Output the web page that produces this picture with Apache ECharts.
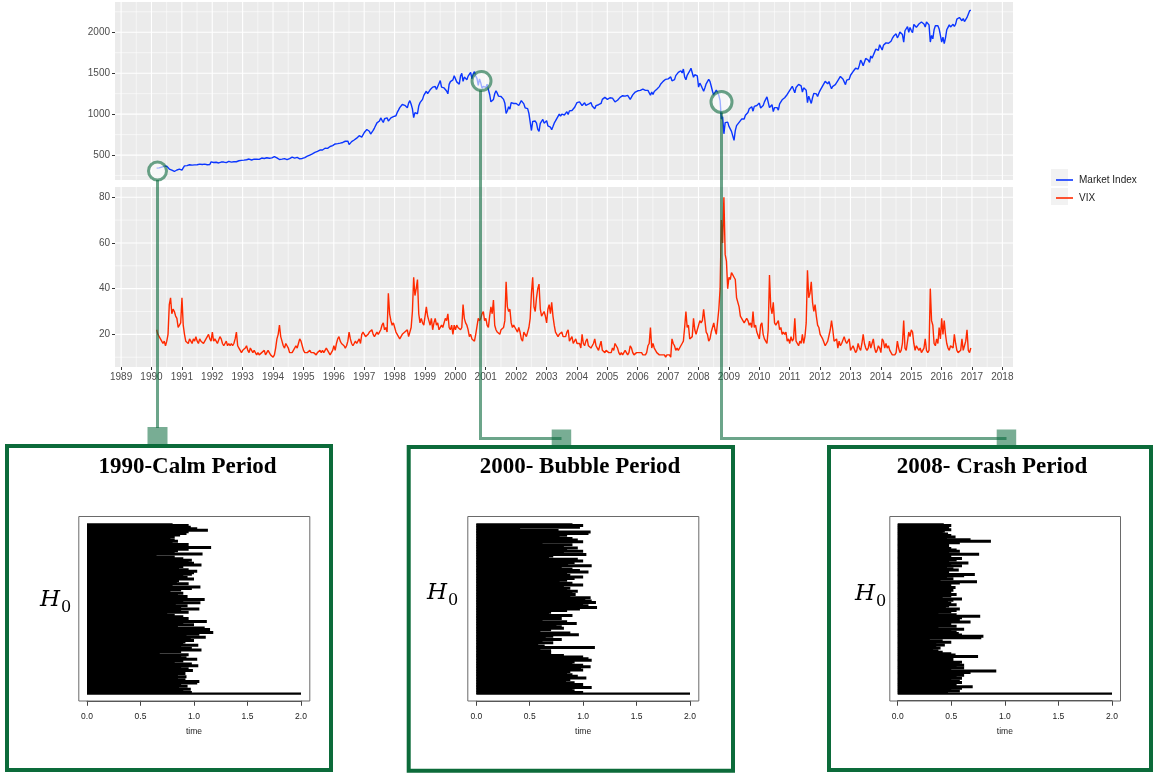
<!DOCTYPE html>
<html><head><meta charset="utf-8">
<script src="https://cdn.jsdelivr.net/npm/echarts@6/dist/echarts.min.js"></script>
<style>html,body{margin:0;padding:0;background:#fff}#c{width:1154px;height:776px}</style>
</head><body><div id="c"></div>
<script>
// ---- data (semi-monthly readings, from Mar 1990 to Dec 2016) ----
const startYear = 1990.17;
const stepYears = 1 / 24;
const marketIndex = [
341,340,344,331,354,361,364,358,365,356,330,323,317,306,300,304,318,322,328,330,
316,344,369,367,372,375,382,375,377,390,381,371,382,388,390,395,386,388,390,392,382,375,385,417,
418,409,413,413,406,404,412,415,416,415,409,408,412,424,419,414,420,418,409,419,422,431,434,436,
436,439,447,443,451,452,448,440,440,450,447,451,449,448,452,464,461,459,463,468,463,462,465,466,
474,482,471,467,466,446,446,451,456,457,459,444,452,458,464,475,470,463,466,472,464,454,458,459,
465,470,482,487,491,501,511,515,525,533,549,545,561,562,559,562,583,584,587,582,597,605,617,616,
602,636,647,640,641,646,645,654,668,669,666,671,628,640,664,652,684,687,707,705,737,757,720,741,
776,786,812,791,791,757,750,801,830,848,893,885,916,954,925,899,944,947,955,915,928,955,963,970,
951,980,1021,1049,1080,1102,1118,1112,1108,1091,1078,1134,1165,1121,1064,957,1018,1017,1005,1099,1140,1164,1180,1229,
1244,1280,1250,1238,1297,1286,1330,1335,1338,1302,1338,1373,1409,1329,1332,1320,1318,1283,1248,1363,1397,1389,1418,1469,
1465,1394,1388,1366,1464,1499,1401,1452,1448,1421,1464,1455,1510,1431,1492,1518,1465,1437,1350,1429,1382,1315,1340,1320,
1326,1366,1300,1240,1150,1160,1180,1249,1285,1256,1220,1224,1215,1211,1180,1134,1010,1041,1090,1060,1140,1139,1130,1148,
1130,1130,1105,1107,1165,1147,1125,1077,1095,1067,1010,990,800,912,930,916,890,815,790,886,910,936,890,880,
920,856,835,841,810,848,890,917,945,964,1000,975,1000,990,990,1008,1030,996,1040,1051,1045,1058,1080,1112,
1140,1131,1150,1145,1105,1126,1140,1107,1090,1121,1130,1141,1100,1102,1065,1104,1125,1115,1110,1130,1180,1174,1205,1212,
1180,1181,1200,1204,1195,1181,1150,1157,1170,1192,1205,1191,1225,1234,1220,1220,1230,1229,1180,1207,1235,1249,1270,1248,
1285,1280,1290,1281,1305,1295,1290,1311,1290,1270,1230,1270,1240,1277,1300,1304,1320,1336,1365,1378,1400,1401,1425,1418,
1430,1438,1455,1407,1390,1421,1470,1482,1510,1531,1530,1503,1550,1455,1420,1474,1480,1527,1560,1549,1450,1481,1470,1468,
1330,1379,1350,1331,1280,1323,1370,1386,1425,1400,1340,1280,1230,1267,1295,1283,1230,1166,940,969,760,896,880,903,
850,826,790,735,680,798,860,873,900,919,940,919,940,987,1005,1021,1065,1057,1090,1036,1095,1096,1105,1115,
1135,1074,1090,1104,1150,1169,1210,1187,1080,1089,1115,1031,1080,1102,1080,1049,1125,1141,1175,1183,1200,1181,1240,1258,
1290,1286,1340,1327,1260,1326,1320,1364,1340,1345,1270,1321,1315,1292,1140,1219,1215,1131,1200,1253,1230,1247,1215,1258,
1290,1312,1345,1366,1400,1408,1370,1398,1350,1310,1340,1362,1360,1379,1410,1407,1460,1441,1430,1412,1360,1416,1430,1426,
1475,1498,1520,1515,1560,1569,1550,1598,1660,1631,1590,1606,1680,1686,1660,1633,1710,1682,1720,1757,1795,1806,1780,1848,
1840,1783,1840,1859,1870,1872,1865,1884,1890,1924,1950,1960,1980,1931,1960,2003,2010,1972,1880,2018,2040,2068,2000,2059,
2020,1995,2095,2105,2060,2068,2100,2086,2125,2107,2100,2063,2125,2104,2090,1880,1960,1920,2030,2079,2060,2080,2040,2044,
1880,1940,1860,1932,2030,2060,2090,2065,2050,2097,2070,2099,2160,2174,2180,2171,2140,2168,2130,2126,2180,2199,2260,2270
];
const vixIndex = [
22,20,19,18,17,16,17,15,17,20,33,36,29,31,30,28,27,23,24,25,
36,24,20,17,17,16,18,17,16,18,17,19,17,16,18,17,17,16,17,18,19,20,18,17,
21,17,18,17,16,16,19,18,16,15,16,17,15,16,15,16,15,16,18,21,15,14,13,12,
13,13,14,15,13,12,14,13,12,13,12,11,12,11,11,12,12,13,11,11,13,12,11,11,
10,11,14,18,20,24,19,17,15,14,16,15,14,12,12,12,13,14,15,14,16,18,17,15,
13,12,12,12,12,13,12,12,12,12,11,12,12,13,12,13,12,13,14,14,12,11,12,13,
15,13,16,18,19,17,16,16,15,14,15,17,21,18,16,15,16,17,16,17,18,16,20,21,
20,19,19,20,21,21,22,20,19,20,21,20,21,22,24,25,22,23,21,38,29,26,24,25,
25,21,20,20,18,19,20,20,21,21,22,19,19,23,30,45,37,40,44,29,25,27,25,24,
28,32,28,26,24,27,22,25,27,24,25,22,22,24,23,25,27,26,29,23,22,24,20,24,
22,24,23,23,22,23,33,27,25,24,22,19,20,18,18,17,20,20,27,26,27,29,30,26,
27,24,23,28,32,29,35,24,22,21,21,20,22,22,23,26,43,32,30,31,25,23,24,23,
22,21,23,21,18,17,21,21,19,19,23,27,38,45,32,30,36,40,42,31,28,28,30,28,
25,31,33,29,34,28,24,21,20,19,20,20,21,19,19,19,21,22,17,17,19,16,16,18,
16,16,16,14,20,16,15,17,18,15,15,14,15,16,18,15,14,13,15,17,13,13,12,13,
13,12,12,12,14,13,16,15,14,12,11,12,11,12,13,12,11,12,15,14,12,11,11,12,
12,12,12,12,11,11,11,12,15,16,23,14,16,14,13,12,12,11,11,11,11,11,10,11,
11,11,10,18,16,15,13,14,13,13,15,16,17,23,30,23,24,18,18,19,27,22,20,22,
24,26,25,26,31,26,21,20,17,18,21,23,25,22,20,20,31,40,70,60,80,55,52,40,
45,44,47,46,45,44,36,36,32,28,28,26,25,25,27,26,24,25,23,30,23,24,21,21,
18,24,25,20,18,17,16,22,46,32,29,34,25,24,25,26,22,23,20,21,20,21,17,18,
16,19,17,18,27,17,16,15,17,16,20,16,19,25,48,36,38,43,34,30,33,28,24,23,
20,19,18,18,15,16,17,17,22,26,22,17,17,18,14,17,15,16,16,19,17,16,17,18,
13,14,15,15,12,13,16,14,13,16,20,16,14,13,14,17,14,16,18,14,12,13,15,14,
12,18,17,14,16,14,15,13,12,11,11,11,12,17,14,12,13,16,26,14,13,13,21,19,
22,21,16,13,15,15,13,14,12,13,14,18,13,12,13,40,26,24,16,15,18,16,23,18,
27,20,26,20,16,14,13,15,15,14,20,16,13,12,12,13,18,13,15,17,22,13,12,14
];
const yearTicks = [1989,1990,1991,1992,1993,1994,1995,1996,1997,1998,1999,2000,2001,2002,2003,2004,2005,2006,2007,2008,2009,2010,2011,2012,2013,2014,2015,2016,2017,2018];
const yearMinor = [1989.5,1990.5,1991.5,1992.5,1993.5,1994.5,1995.5,1996.5,1997.5,1998.5,1999.5,2000.5,2001.5,2002.5,2003.5,2004.5,2005.5,2006.5,2007.5,2008.5,2009.5,2010.5,2011.5,2012.5,2013.5,2014.5,2015.5,2016.5,2017.5];
const indexTicks = [500,1000,1500,2000];
const indexMinor = [250,750,1250,1750,2250];
const vixTicks = [20,40,60,80];
const vixMinor = [10,30,50,70];
const timeTicks = [0,0.5,1,1.5,2];
const periodTitles = ['1990-Calm Period','2000- Bubble Period','2008- Crash Period'];
// barcode bar lengths (top to bottom)
const barcodeCalm = [0.80,0.95,0.97,1.03,1.13,0.95,0.93,0.87,0.82,0.78,0.82,0.85,0.80,0.95,0.94,1.16,0.95,0.85,0.82,1.08,0.65,0.82,0.90,0.98,0.95,1.00,1.07,0.90,0.86,0.95,1.03,1.00,0.98,0.90,0.94,1.00,0.86,0.84,0.95,0.80,1.06,0.98,0.88,0.78,0.90,0.85,0.94,0.88,1.10,0.90,1.06,0.83,0.94,0.88,1.05,0.88,0.95,0.75,0.82,0.90,0.95,0.86,1.12,0.90,1.00,0.85,1.10,1.15,0.88,1.18,1.05,0.93,1.11,0.97,1.00,0.92,0.90,1.04,0.88,0.98,1.07,0.88,0.68,0.95,0.88,0.93,1.03,0.90,0.82,0.98,1.04,0.88,0.95,0.99,0.85,0.92,0.85,0.93,0.85,0.92,1.05,1.03,0.88,0.94,0.86,0.97,0.90,0.98,2.00];
const barcodeBubble = [0.90,1.00,0.97,0.41,0.77,1.07,1.05,0.85,0.78,0.90,0.95,1.00,0.62,0.90,0.82,0.95,0.85,1.00,0.82,1.03,0.72,0.68,0.95,1.00,0.92,0.86,1.08,0.80,0.90,0.97,1.05,0.85,0.88,1.00,0.92,0.85,0.78,0.90,1.00,0.82,0.88,0.85,0.95,0.90,0.93,0.88,1.07,1.02,1.08,1.12,1.00,1.05,1.13,0.97,0.85,0.70,0.68,0.90,0.75,0.80,0.62,0.85,0.94,0.75,0.80,0.82,0.70,0.60,0.88,0.96,0.72,0.65,0.80,0.62,0.72,0.58,0.64,1.11,0.60,0.70,0.70,0.70,0.82,1.00,1.05,1.08,0.92,0.90,1.00,1.07,0.98,1.00,0.88,0.85,0.90,0.95,1.03,0.88,0.84,0.92,1.00,0.88,1.08,0.90,0.92,1.00,2.00];
const barcodeCrash = [0.43,0.50,0.45,0.48,0.50,0.44,0.42,0.47,0.50,0.54,0.46,0.68,0.87,0.58,0.46,0.48,0.44,0.50,0.55,0.58,0.48,0.76,0.50,0.45,0.60,0.55,0.48,0.66,0.50,0.60,0.46,0.52,0.57,0.48,0.40,0.72,0.62,0.46,0.52,0.40,0.74,0.58,0.50,0.45,0.54,0.48,0.52,0.50,0.47,0.55,0.50,0.42,0.60,0.52,0.47,0.50,0.55,0.48,0.45,0.58,0.55,0.50,0.38,0.55,0.77,0.60,0.48,0.58,0.68,0.50,0.45,0.55,0.38,0.62,0.50,0.55,0.57,0.60,0.80,0.78,0.30,0.42,0.50,0.36,0.44,0.36,0.40,0.33,0.38,0.42,0.50,0.54,0.75,0.48,0.52,0.45,0.60,0.58,0.62,0.55,0.62,0.50,0.92,0.68,0.57,0.62,0.55,0.60,0.50,0.58,0.60,0.45,0.55,0.70,0.60,0.50,0.58,0.47,2.00];

// ---- layout ----
const FONT = 'Liberation Sans';
const panelL = 115, panelW = 898;
const xMin = 1988.8, xMax = 2018.35;
const GREEN = '#0c6b3a';
const LINK = 'rgba(10,105,60,0.6)';

const chart = echarts.init(document.getElementById('c'), null, {renderer: 'canvas'});

function gridLines(idx, vals, dir, width, other) {
  return {
    type: 'custom', xAxisIndex: idx, yAxisIndex: idx, silent: true, z: 1, animation: false,
    data: vals.map(v => dir === 'v' ? [v, other] : [other, v]),
    renderItem: (params, api) => {
      const cs = params.coordSys;
      const p = api.coord([api.value(0), api.value(1)]);
      const shape = dir === 'v'
        ? {x1: p[0], y1: cs.y, x2: p[0], y2: cs.y + cs.height}
        : {x1: cs.x, y1: p[1], x2: cs.x + cs.width, y2: p[1]};
      return {type: 'line', shape, style: {stroke: '#ffffff', lineWidth: width}};
    }
  };
}

const barcodes = [
  {data: barcodeCalm, x0: 87, w: 214},
  {data: barcodeBubble, x0: 476.3, w: 213.7},
  {data: barcodeCrash, x0: 897.7, w: 214.3}
];

const grids = [
  {left: panelL, top: 2, width: panelW, height: 178, show: true, backgroundColor: '#ebebeb', borderWidth: 0},
  {left: panelL, top: 187, width: panelW, height: 180, show: true, backgroundColor: '#ebebeb', borderWidth: 0}
];
barcodes.forEach(b => {
  const n = b.data.length;
  const band = 170 / (n - 1);
  grids.push({left: b.x0, top: 524 - band / 2, width: b.w, height: 170 + band, show: false});
});

const tickLabel = {fontSize: 10, color: '#4d4d4d', fontFamily: FONT};
const plain = v => String(v);
const xAxes = [
  {gridIndex: 0, type: 'value', min: xMin, max: xMax, axisLine: {show: false}, axisTick: {show: false}, axisLabel: {show: false}, splitLine: {show: false}},
  {gridIndex: 1, type: 'value', min: xMin, max: xMax, axisLine: {show: false},
   axisTick: {show: true, length: 3, customValues: yearTicks, lineStyle: {color: '#333', width: 1}},
   axisLabel: Object.assign({show: true, margin: 5, customValues: yearTicks, formatter: plain}, tickLabel),
   splitLine: {show: false}}
];
const yAxes = [
  {gridIndex: 0, type: 'value', min: 196, max: 2369, axisLine: {show: false},
   axisTick: {show: true, length: 3, customValues: indexTicks, lineStyle: {color: '#333'}},
   axisLabel: Object.assign({show: true, margin: 5, customValues: indexTicks, formatter: plain}, tickLabel), splitLine: {show: false}},
  {gridIndex: 1, type: 'value', min: 5.7, max: 84.5, axisLine: {show: false},
   axisTick: {show: true, length: 3, customValues: vixTicks, lineStyle: {color: '#333'}},
   axisLabel: Object.assign({show: true, margin: 5, customValues: vixTicks, formatter: plain}, tickLabel), splitLine: {show: false}}
];
barcodes.forEach((b, k) => {
  xAxes.push({gridIndex: 2 + k, type: 'value', min: 0, max: 2, interval: 0.5, offset: 6,
    axisLine: {show: true, lineStyle: {color: '#444', width: 1}},
    axisTick: {show: true, length: 5, lineStyle: {color: '#444'}},
    axisLabel: {show: true, margin: 11, fontSize: 8.5, color: '#222', fontFamily: FONT, formatter: v => v.toFixed(1)},
    splitLine: {show: false},
    name: 'time', nameLocation: 'middle', nameGap: 26, nameTextStyle: {fontSize: 8.5, color: '#222', fontFamily: FONT}});
  yAxes.push({gridIndex: 2 + k, type: 'category', inverse: true, data: b.data.map((_, i) => i),
    axisLine: {show: false}, axisTick: {show: false}, axisLabel: {show: false}, splitLine: {show: false}});
});

const series = [
  gridLines(0, indexMinor, 'h', 0.55, 2000),
  gridLines(0, yearMinor, 'v', 0.55, 1000),
  gridLines(0, indexTicks, 'h', 1.1, 2000),
  gridLines(0, yearTicks, 'v', 1.1, 1000),
  gridLines(1, vixMinor, 'h', 0.55, 2000),
  gridLines(1, yearMinor, 'v', 0.55, 40),
  gridLines(1, vixTicks, 'h', 1.1, 2000),
  gridLines(1, yearTicks, 'v', 1.1, 40),
  {name: 'Market Index', type: 'line', xAxisIndex: 0, yAxisIndex: 0, showSymbol: false, symbol: 'none', z: 3, animation: false,
   lineStyle: {color: '#0a35ff', width: 1.4}, itemStyle: {color: '#0a35ff'},
   data: marketIndex.map((v, i) => [startYear + i * stepYears, v])},
  {name: 'VIX', type: 'line', xAxisIndex: 1, yAxisIndex: 1, showSymbol: false, symbol: 'none', z: 3, animation: false,
   lineStyle: {color: '#ff2a00', width: 1.4}, itemStyle: {color: '#ff2a00'},
   data: vixIndex.map((v, i) => [startYear + i * stepYears, v])}
];
barcodes.forEach((b, k) => {
  series.push({type: 'bar', xAxisIndex: 2 + k, yAxisIndex: 2 + k, silent: true, animation: false,
    barWidth: 3, itemStyle: {color: '#000'}, data: b.data});
});

// ---- decorations ----
const graphic = [];
// legend key backgrounds
graphic.push({type: 'rect', z: -1, shape: {x: 1051, y: 169, width: 17, height: 17}, style: {fill: '#f2f2f2'}});
graphic.push({type: 'rect', z: -1, shape: {x: 1051, y: 188, width: 17, height: 17}, style: {fill: '#f2f2f2'}});
// green boxes
[[7, 446, 324, 324], [408.7, 447, 324.3, 323.7], [829, 447, 322, 323]].forEach(r => {
  graphic.push({type: 'rect', z: 5, shape: {x: r[0], y: r[1], width: r[2], height: r[3]}, style: {fill: 'none', stroke: GREEN, lineWidth: 4}});
});
// barcode plot frames
[[78.3, 309.3], [467.3, 698.3], [889.3, 1120]].forEach(r => {
  graphic.push({type: 'rect', z: 5, shape: {x: r[0] + 0.5, y: 516.5, width: r[1] - r[0], height: 184.5}, style: {fill: 'none', stroke: '#6a6a6a', lineWidth: 1}});
});
// titles
[187.5, 580, 992].forEach((cx, k) => {
  graphic.push({type: 'text', z: 6, x: cx, y: 467,
    style: {text: periodTitles[k], font: 'bold 23px "Liberation Serif"', fill: '#000', align: 'center', verticalAlign: 'middle'}});
});
// H0 labels
[[40, 602], [427, 595], [855, 596]].forEach(p => {
  graphic.push({type: 'text', z: 6, x: p[0], y: p[1],
    style: {text: '{h|H}{s|0}', align: 'left', verticalAlign: 'middle',
      rich: {
        h: {fontFamily: 'DejaVu Serif', fontStyle: 'italic', fontSize: 23, lineHeight: 27, verticalAlign: 'top', fill: '#000'},
        s: {fontFamily: 'DejaVu Serif', fontSize: 16, lineHeight: 27, verticalAlign: 'bottom', fill: '#000', padding: [0, 0, 0, 1]}
      }}});
});
// connectors
const links = [
  {c: [157.5, 171, 9], pts: [[157.5, 180], [157.5, 428]], sq: [147.5, 427, 20, 18]},
  {c: [481.5, 81, 9.5], pts: [[480.5, 90.5], [480.5, 438.5], [561.5, 438.5]], sq: [551.7, 429.5, 19.5, 15.5]},
  {c: [721.5, 102, 10.5], pts: [[721.5, 112.5], [721.5, 438.5], [1006.5, 438.5]], sq: [996.7, 429.5, 19.5, 15.5]}
];
links.forEach(l => {
  graphic.push({type: 'circle', z: 50, shape: {cx: l.c[0], cy: l.c[1], r: l.c[2]},
    style: {fill: 'rgba(255,255,255,0.6)', stroke: LINK, lineWidth: 3}});
  graphic.push({type: 'polyline', z: 50, shape: {points: l.pts}, style: {stroke: LINK, lineWidth: 3, fill: 'none'}});
  graphic.push({type: 'rect', z: 50, shape: {x: l.sq[0], y: l.sq[1], width: l.sq[2], height: l.sq[3]}, style: {fill: 'rgba(10,105,60,0.55)'}});
});

chart.setOption({
  animation: false,
  backgroundColor: '#ffffff',
  textStyle: {fontFamily: FONT},
  grid: grids,
  xAxis: xAxes,
  yAxis: yAxes,
  legend: {data: ['Market Index', 'VIX'], orient: 'vertical', left: 1051, top: 170, icon: 'rect',
    itemWidth: 17, itemHeight: 1.6, itemGap: 8, selectedMode: false,
    textStyle: {fontSize: 10, color: '#222', fontFamily: FONT, padding: [0, 0, 0, 1]}},
  series: series,
  graphic: graphic
});
</script>
</body></html>
